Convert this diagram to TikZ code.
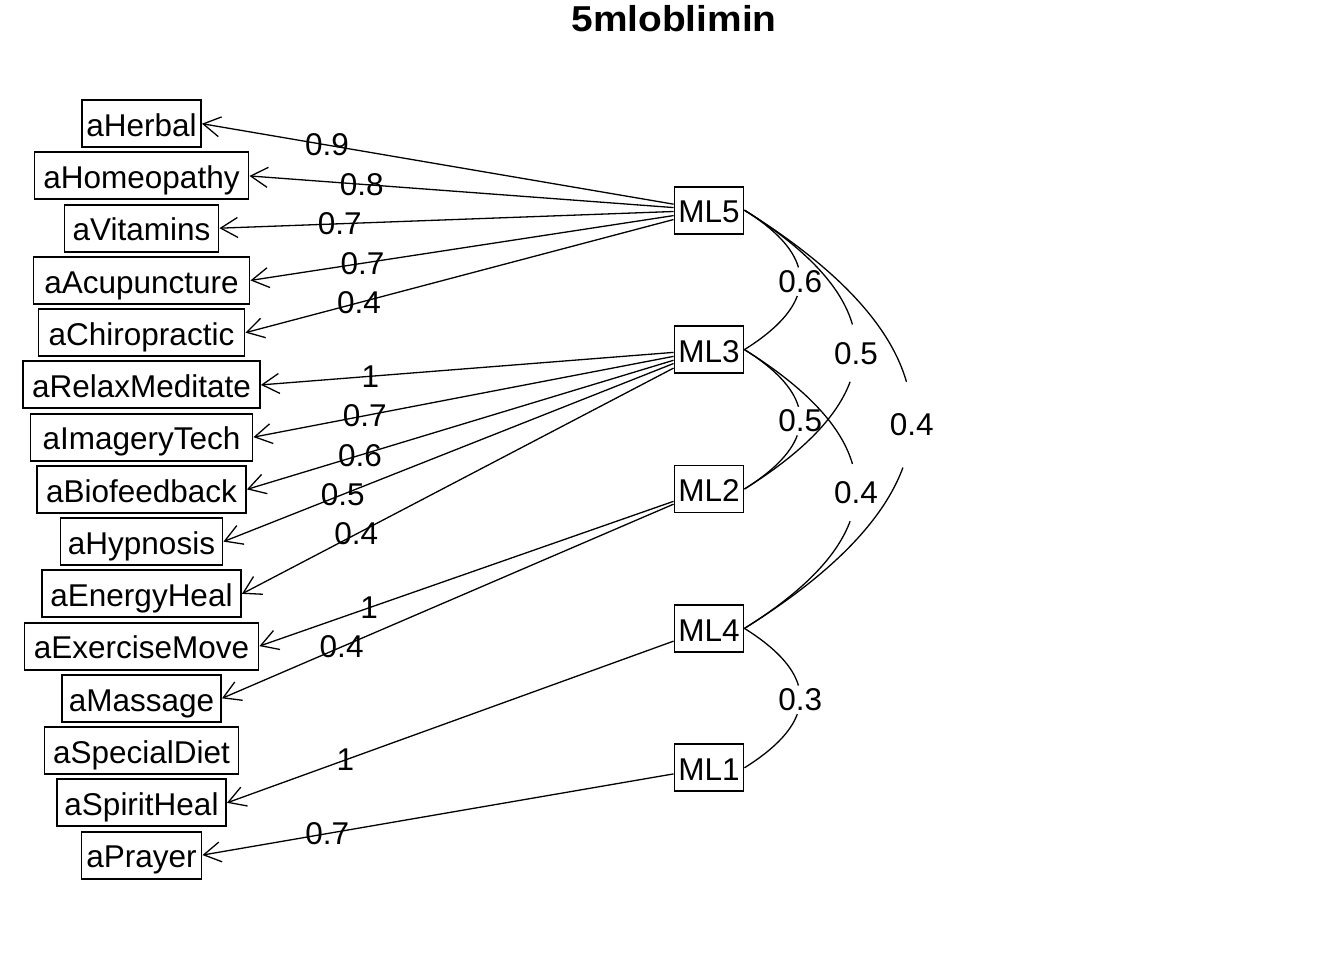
\documentclass[tikz,border=0pt]{standalone}
\usepackage{fontspec}
\setmainfont{Liberation Sans}
\newfontfamily\titlefont{Liberation Sans Bold}[FakeStretch=1.08]
\usetikzlibrary{arrows.meta,calc}
\tikzset{
  itembox/.style={draw, line width=1.9pt, inner xsep=0pt, inner ysep=0pt,
    text height=36.2pt, text depth=10.8pt, font=\fontsize{31.5}{36}\selectfont},
  factorbox/.style={itembox, minimum width=69pt},
  load/.style={line width=1.3pt, -{Straight Barb[length=17pt,width=20pt,line width=1.3pt]}},
  lab/.style={inner sep=0pt, font=\fontsize{31.5}{36}\selectfont},
  corr/.style={line width=1.3pt},
}
% top node, bottom node, scale, label, label name
\newcommand{\corrcurve}[5]{%
  \draw[corr] (#1.east) .. controls ($(#1.east)+#3*(30.52,19.06)$) and ($(#1.east)+#3*(48.52,38.13)$) .. ($(#1.east)+#3*(54.0,57.19)$);
  \draw[corr] (#2.east) .. controls ($(#2.east)+#3*(28.61,-17.87)$) and ($(#2.east)+#3*(46.22,-35.74)$) .. ($(#2.east)+#3*(52.83,-53.61)$);
  \node[lab] (#5) at ($(#1.east)+#3*(55.8,71.48)$) {#4};
}
\begin{document}
\begin{tikzpicture}[x=1pt,y=-1pt]
\fill[white] (0,0) rectangle (1344,960);
\useasboundingbox (0,0) rectangle (1344,960);

\node[font=\titlefont\fontsize{36}{40}\selectfont, anchor=base] (title) at (674,32) {5mloblimin};

% items
\node[itembox, minimum width=119pt] (aHerbal) at (141.5,123.7) {aHerbal};
\node[itembox, minimum width=214pt] (aHomeopathy) at (141.5,175.94) {aHomeopathy};
\node[itembox, minimum width=154pt] (aVitamins) at (141.5,228.18) {aVitamins};
\node[itembox, minimum width=216pt] (aAcupuncture) at (141.5,280.42) {aAcupuncture};
\node[itembox, minimum width=206pt] (aChiropractic) at (141.5,332.66) {aChiropractic};
\node[itembox, minimum width=237pt] (aRelaxMeditate) at (141.5,384.9) {aRelaxMeditate};
\node[itembox, minimum width=222pt] (aImageryTech) at (141.5,437.14) {aImageryTech};
\node[itembox, minimum width=209pt] (aBiofeedback) at (141.5,489.38) {aBiofeedback};
\node[itembox, minimum width=162pt] (aHypnosis) at (141.5,541.62) {aHypnosis};
\node[itembox, minimum width=199pt] (aEnergyHeal) at (141.5,593.86) {aEnergyHeal};
\node[itembox, minimum width=234pt] (aExerciseMove) at (141.5,646.1) {aExerciseMove};
\node[itembox, minimum width=159pt] (aMassage) at (141.5,698.34) {aMassage};
\node[itembox, minimum width=194pt] (aSpecialDiet) at (141.5,750.58) {aSpecialDiet};
\node[itembox, minimum width=169pt] (aSpiritHeal) at (141.5,802.82) {aSpiritHeal};
\node[itembox, minimum width=120pt] (aPrayer) at (141.5,855.06) {aPrayer};

% factors
\node[factorbox] (ML5) at (709,210.2) {ML5};
\node[factorbox] (ML3) at (709,349.6) {ML3};
\node[factorbox] (ML2) at (709,489.0) {ML2};
\node[factorbox] (ML4) at (709,628.4) {ML4};
\node[factorbox] (ML1) at (709,767.8) {ML1};

% loadings
\draw[load] (ML5) -- node[lab,pos=0.735] (l1) {0.9} (aHerbal.east);
\draw[load] (ML5) -- node[lab,pos=0.735] (l2) {0.8} (aHomeopathy.east);
\draw[load] (ML5) -- node[lab,pos=0.735] (l3) {0.7} (aVitamins.east);
\draw[load] (ML5) -- node[lab,pos=0.735] (l4) {0.7} (aAcupuncture.east);
\draw[load] (ML5) -- node[lab,pos=0.735] (l5) {0.4} (aChiropractic.east);
\draw[load] (ML3) -- node[lab,pos=0.735] (l6) {1} (aRelaxMeditate.east);
\draw[load] (ML3) -- node[lab,pos=0.735] (l7) {0.7} (aImageryTech.east);
\draw[load] (ML3) -- node[lab,pos=0.735] (l8) {0.6} (aBiofeedback.east);
\draw[load] (ML3) -- node[lab,pos=0.735] (l9) {0.5} (aHypnosis.east);
\draw[load] (ML3) -- node[lab,pos=0.735] (l10) {0.4} (aEnergyHeal.east);
\draw[load] (ML2) -- node[lab,pos=0.735] (l11) {1} (aExerciseMove.east);
\draw[load] (ML2) -- node[lab,pos=0.735] (l12) {0.4} (aMassage.east);
\draw[load] (ML4) -- node[lab,pos=0.735] (l13) {1} (aSpiritHeal.east);
\draw[load] (ML1) -- node[lab,pos=0.735] (l14) {0.7} (aPrayer.east);

% factor correlations
\corrcurve{ML5}{ML3}{1}{0.6}{c1}
\corrcurve{ML5}{ML2}{2}{0.5}{c2}
\corrcurve{ML5}{ML4}{3}{0.4}{c3}
\corrcurve{ML3}{ML2}{1}{0.5}{c4}
\corrcurve{ML3}{ML4}{2}{0.4}{c5}
\corrcurve{ML4}{ML1}{1}{0.3}{c6}
\end{tikzpicture}
\end{document}
